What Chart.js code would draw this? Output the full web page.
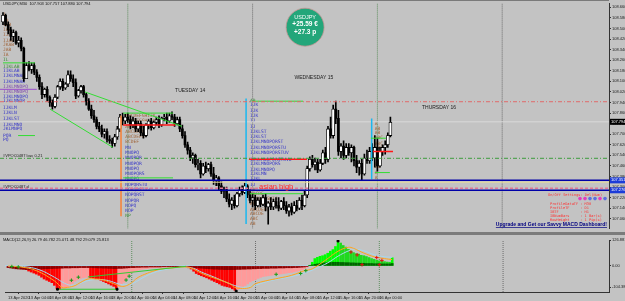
<!DOCTYPE html>
<html>
<head>
<meta charset="utf-8">
<title>USDJPY M30</title>
<script src="https://cdn.jsdelivr.net/npm/chart.js@4.4.1/dist/chart.umd.min.js"></script>
<style>
  html, body { margin: 0; padding: 0; background: #c3c3c3; }
  #wrap { position: relative; width: 625px; height: 301px; overflow: hidden; background: #c3c3c3; }
  canvas { position: absolute; left: 0; }
  #priceChart { top: 0; }
  #macdChart { top: 235px; }
  #sep { position: absolute; left: 0; top: 232px; width: 625px; height: 3px; background: #7b7b7b; }
</style>
</head>
<body>
<div id="wrap">
  <canvas id="priceChart" width="625" height="232"></canvas>
  <div id="sep"></div>
  <canvas id="macdChart" width="625" height="66"></canvas>
</div>
<script>
// ==================== DATA ====================

const headerText = 'USDJPY,M30  107.903 107.757 107.880 107.794';
const macdHeader = 'MACD(12,26,9) 26.79 46.782 25.071 48.792 29.079 25.813';

// one label every 4 hours (8 bars of M30)
const timeLabels = ['13 Apr 2020', '13 Apr 04:00', '13 Apr 08:00', '13 Apr 12:00', '13 Apr 16:00', '13 Apr 20:00',
  '14 Apr 00:00', '14 Apr 04:00', '14 Apr 08:00', '14 Apr 12:00', '14 Apr 16:00', '14 Apr 20:00',
  '15 Apr 00:00', '15 Apr 04:00', '15 Apr 08:00', '15 Apr 12:00', '15 Apr 16:00', '15 Apr 20:00', '16 Apr 00:00'];
const BARS_PER_LABEL = 8;
const daySeps = [48, 96, 144, 192];

const opens = [
  108.55, 108.60, 108.53, 108.49, 108.44, 108.47, 108.39, 108.41, 108.35, 108.12,
  108.22, 108.19, 108.22, 108.17, 108.13, 108.06, 108.00, 108.04, 107.98, 107.94,
  107.91, 107.98, 108.06, 108.10, 108.05, 108.08, 108.15, 108.12, 108.09, 107.99,
  108.03, 108.06, 108.00, 107.95, 107.89, 107.84, 107.81, 107.76, 107.74, 107.70,
  107.72, 107.66, 107.65, 107.63, 107.68, 107.74, 107.83, 107.80, 107.83, 107.81,
  107.77, 107.80, 107.74, 107.78, 107.71, 107.69, 107.77, 107.80, 107.75, 107.79,
  107.81, 107.77, 107.82, 107.83, 107.80, 107.84, 107.83, 107.78, 107.81, 107.74,
  107.69, 107.62, 107.58, 107.52, 107.54, 107.47, 107.48, 107.40, 107.46, 107.44,
  107.47, 107.40, 107.35, 107.37, 107.31, 107.27, 107.28, 107.21, 107.17, 107.20,
  107.16, 107.25, 107.28, 107.26, 107.31, 107.24, 107.20, 107.22, 107.16, 107.20,
  107.17, 107.22, 107.15, 107.18, 107.15, 107.19, 107.16, 107.14, 107.19, 107.16,
  107.12, 107.15, 107.11, 107.16, 107.14, 107.20, 107.16, 107.24, 107.44, 107.51,
  107.47, 107.49, 107.43, 107.48, 107.56, 107.51, 107.74, 107.69, 107.89, 107.82,
  107.57, 107.61, 107.54, 107.60, 107.56, 107.60, 107.50, 107.45, 107.48, 107.40,
  107.52, 107.50, 107.57, 107.52, 107.60, 107.46, 107.57, 107.60, 107.62, 107.69
];
const highs = [
  108.62, 108.61, 108.55, 108.51, 108.49, 108.48, 108.44, 108.43, 108.36, 108.24,
  108.25, 108.24, 108.24, 108.19, 108.15, 108.09, 108.05, 108.06, 107.99, 107.96,
  108.00, 108.07, 108.12, 108.12, 108.09, 108.18, 108.18, 108.15, 108.12, 108.04,
  108.07, 108.07, 108.01, 107.97, 107.92, 107.88, 107.83, 107.79, 107.77, 107.74,
  107.74, 107.69, 107.67, 107.70, 107.76, 107.85, 107.86, 107.85, 107.86, 107.84,
  107.83, 107.82, 107.80, 107.80, 107.76, 107.78, 107.81, 107.82, 107.80, 107.83,
  107.84, 107.83, 107.85, 107.86, 107.86, 107.87, 107.85, 107.83, 107.83, 107.77,
  107.72, 107.64, 107.60, 107.56, 107.55, 107.51, 107.50, 107.48, 107.49, 107.48,
  107.49, 107.45, 107.39, 107.38, 107.34, 107.30, 107.30, 107.25, 107.22, 107.24,
  107.26, 107.30, 107.31, 107.33, 107.32, 107.28, 107.25, 107.24, 107.22, 107.22,
  107.24, 107.25, 107.19, 107.22, 107.21, 107.22, 107.22, 107.20, 107.22, 107.19,
  107.17, 107.18, 107.19, 107.20, 107.22, 107.24, 107.27, 107.46, 107.53, 107.54,
  107.52, 107.51, 107.51, 107.58, 107.60, 107.76, 107.83, 107.92, 107.95, 107.88,
  107.63, 107.65, 107.63, 107.63, 107.62, 107.61, 107.54, 107.50, 107.51, 107.55,
  107.58, 107.60, 107.63, 107.69, 107.67, 107.60, 107.62, 107.65, 107.71, 107.83
];
const lows = [
  108.53, 108.52, 108.46, 108.41, 108.40, 108.38, 108.36, 108.33, 108.10, 108.12,
  108.18, 108.16, 108.15, 108.10, 108.04, 107.97, 107.98, 107.95, 107.91, 107.89,
  107.90, 107.97, 108.04, 108.03, 108.04, 108.06, 108.10, 108.06, 107.97, 107.98,
  108.01, 107.98, 107.92, 107.88, 107.82, 107.79, 107.74, 107.72, 107.68, 107.67,
  107.64, 107.63, 107.60, 107.61, 107.66, 107.72, 107.77, 107.78, 107.79, 107.74,
  107.75, 107.72, 107.72, 107.69, 107.67, 107.68, 107.74, 107.73, 107.74, 107.77,
  107.75, 107.76, 107.80, 107.78, 107.79, 107.81, 107.76, 107.77, 107.72, 107.67,
  107.60, 107.55, 107.50, 107.48, 107.45, 107.43, 107.37, 107.39, 107.41, 107.42,
  107.38, 107.32, 107.31, 107.28, 107.25, 107.22, 107.19, 107.15, 107.13, 107.14,
  107.15, 107.23, 107.24, 107.25, 107.22, 107.18, 107.15, 107.13, 107.15, 107.15,
  107.16, 107.12, 107.02, 107.13, 107.13, 107.14, 107.12, 107.13, 107.13, 107.10,
  107.08, 107.09, 107.10, 107.12, 107.13, 107.13, 107.15, 107.22, 107.42, 107.45,
  107.43, 107.41, 107.42, 107.47, 107.48, 107.49, 107.67, 107.67, 107.78, 107.54,
  107.52, 107.51, 107.52, 107.54, 107.49, 107.46, 107.41, 107.39, 107.35, 107.39,
  107.48, 107.48, 107.50, 107.45, 107.42, 107.45, 107.54, 107.55, 107.60, 107.68
];
const closes = [
  108.60, 108.53, 108.49, 108.44, 108.47, 108.39, 108.41, 108.35, 108.12, 108.22,
  108.19, 108.22, 108.17, 108.13, 108.06, 108.00, 108.04, 107.98, 107.94, 107.91,
  107.98, 108.06, 108.10, 108.05, 108.08, 108.15, 108.12, 108.09, 107.99, 108.03,
  108.06, 108.00, 107.95, 107.89, 107.84, 107.81, 107.76, 107.74, 107.70, 107.72,
  107.66, 107.65, 107.63, 107.68, 107.74, 107.83, 107.80, 107.83, 107.81, 107.77,
  107.80, 107.74, 107.78, 107.71, 107.69, 107.77, 107.80, 107.75, 107.79, 107.81,
  107.77, 107.82, 107.83, 107.80, 107.84, 107.83, 107.78, 107.81, 107.74, 107.69,
  107.62, 107.58, 107.52, 107.54, 107.47, 107.48, 107.40, 107.46, 107.44, 107.47,
  107.40, 107.35, 107.37, 107.31, 107.27, 107.28, 107.21, 107.17, 107.20, 107.16,
  107.25, 107.28, 107.26, 107.31, 107.24, 107.20, 107.22, 107.16, 107.20, 107.17,
  107.22, 107.15, 107.18, 107.15, 107.19, 107.16, 107.14, 107.19, 107.16, 107.12,
  107.15, 107.11, 107.16, 107.14, 107.20, 107.16, 107.24, 107.44, 107.51, 107.47,
  107.49, 107.43, 107.48, 107.56, 107.51, 107.74, 107.69, 107.89, 107.82, 107.57,
  107.61, 107.54, 107.60, 107.56, 107.60, 107.50, 107.45, 107.48, 107.40, 107.52,
  107.50, 107.57, 107.52, 107.60, 107.46, 107.57, 107.60, 107.62, 107.69, 107.79
];

const priceTicks = [108.66, 108.58, 108.50, 108.42, 108.34, 108.26, 108.18, 108.10, 108.02, 107.94, 107.86,
  107.78, 107.70, 107.62, 107.54, 107.46, 107.38, 107.30, 107.22, 107.14, 107.06];
const lastPrice = 107.794;

// full-width levels
const prevHighLevel = 107.946;
const vpocLevel = 107.518;
const asianHighLevel = 107.351;
const asianHighShadow = 107.337;
const vpocDLevel = 107.291;
const asianLowLevel = 107.276;

// drawn objects [barFrom, priceFrom, barTo, priceTo]
const greenSegs = [
  [0, 108.24, 12.3, 108.24], [18.1, 107.89, 42.3, 107.60], [31.5, 108.02, 68.8, 107.76],
  [46.2, 107.86, 65.4, 107.86], [46.2, 107.37, 65.4, 107.37], [5.8, 107.69, 12.3, 107.69],
  [95.8, 107.95, 115.4, 107.95], [95.0, 107.25, 115.4, 107.25], [141.5, 107.67, 147.3, 107.67],
  [143.0, 107.41, 148.8, 107.41]
];
const redSegs = [[46.2, 107.77, 66.2, 107.77], [94.6, 107.51, 116.9, 107.51], [142.3, 107.57, 150.0, 107.57]];
const purpleSegs = [[-1.2, 108.04, 13.0, 108.04]];
const cyanSegs = [[93.5, 107.97, 93.5, 107.02], [141.8, 107.82, 141.8, 107.36]];
const orangeSegs = [[45.4, 107.84, 45.4, 107.08]];

// TPO profile rows [price, letters, kind]
const tpo13 = [
  [108.60, 'I', 0], [108.56, 'IB', 0], [108.53, 'IAB', 0], [108.49, 'IAB', 0], [108.45, 'IJAB', 0],
  [108.41, 'IJAB', 0], [108.38, 'JKAB', 0], [108.34, 'JAB', 0], [108.30, 'IA', 0], [108.26, 'IL', 3],
  [108.21, 'IIKLAB', 3], [108.18, 'IIKLAB', 1], [108.14, 'IJKLMNAB', 1], [108.10, 'IJKLMNAB', 1],
  [108.06, 'IJKLMNOPQ', 2], [108.02, 'IJKLMNOPQ', 2], [107.98, 'IJKLMNOPQ', 1], [107.95, 'IJKLMNOP', 1],
  [107.90, 'IJKLM', 1], [107.86, 'IJKLN', 1], [107.82, 'IJKLST', 1], [107.77, 'IJKLMNO', 1],
  [107.74, 'JKLMNPQ', 1], [107.69, 'PQR', 1], [107.66, 'PQ', 1]
];
const tpo14 = [
  [107.84, 'ABCDEFGHIJK', 0], [107.80, 'ABCDEFGHIJK', 0], [107.76, 'ABCDEFGHIJ', 0], [107.72, 'ABCDEFGH', 0],
  [107.68, 'ABCDEFG', 0], [107.64, 'BCDEF', 0], [107.60, 'MN', 1], [107.56, 'MNOPQ', 1], [107.52, 'MNOPQR', 1],
  [107.48, 'MNOPQR', 1], [107.44, 'MNOPQ', 1], [107.40, 'MNOPQRS', 1], [107.36, 'MNOPQ', 1],
  [107.32, 'NOPQRSTU', 1], [107.28, 'NOPQRSTUV', 2], [107.24, 'NOPQRST', 1], [107.20, 'NOPQR', 1],
  [107.16, 'NOPQ', 1], [107.12, 'NOP', 1], [107.08, 'NP', 3]
];
const tpo15 = [
  [107.95, 'AB', 3], [107.92, 'IJK', 1], [107.88, 'IJK', 1], [107.84, 'IJK', 1], [107.80, 'IJ', 1],
  [107.76, 'IJ', 1], [107.72, 'IJKLST', 1], [107.68, 'IJKLST', 1], [107.64, 'IJKLMNOPQRST', 1],
  [107.60, 'IJKLMNOPQRSTU', 1], [107.56, 'IJKLMNOPQRSTUV', 1], [107.51, 'IJKLMNOPQRSTUVW', 1],
  [107.48, 'IJKLMNOPQRS', 1], [107.43, 'IJKLMNOPQ', 1], [107.40, 'IJKLMN', 1], [107.36, 'IJKL', 1],
  [107.32, 'IJ', 1], [107.28, 'AB', 0], [107.25, 'ABCDE', 0], [107.21, 'ABCDEFGHIJ', 0],
  [107.17, 'ABCDEFGHI', 0], [107.13, 'ABCDEFG', 0], [107.10, 'ABCDE', 0], [107.06, 'ABC', 0], [107.02, 'AB', 0]
];
const tpo16 = [
  [107.78, 'A', 0], [107.74, 'AB', 0], [107.71, 'AB', 0], [107.67, 'ABC', 0], [107.63, 'ABC', 0],
  [107.60, 'ABC', 0], [107.56, 'AB', 0], [107.52, 'ABC', 0], [107.48, 'AB', 0], [107.45, 'AB', 0],
  [107.41, 'A', 0], [107.37, 'A', 0]
];
const tpoStart = [0, 47, 95, 143];

const dayNames = ['TUESDAY 14', 'WEDNESDAY 15', 'THURSDAY 16'];
const badgeLines = ['USDJPY', '+25.59 \u20ac', '+27.3 p'];
const vpocLabels = ['#VPOC0487 low, 0.21', '#VPOC0487 d'];
const asianLabel = 'asian high';
const infoTitle = 'On/Off Settings: Del(Num)';
const infoLines = ['ProfileDataTF : M30', 'ProfileTF     : D1', 'IBTF          : H1', 'IBNumBars     : 1 Bar(s)', 'RowHeight     : 1 Pip(s)'];
const upgradeText = 'Upgrade and Get our Savvy MACD Dashboard!';

// MACD panel
const macdHist = [
  -4, -3, -5, -6, -8, -10, -13, -18, -25, -30,
  -35, -40, -46, -55, -64, -70, -76, -82, -95, -112,
  -114, -110, -108, -102, -96, -86, -75, -68, -62, -58,
  -56, -55, -57, -60, -64, -67, -70, -76, -82, -88,
  -94, -100, -112, -100, -90, -80, -62, -44, -33, -28,
  -23, -19, -16, -14, -13, -11, -10, -9, -8, -7,
  -6, -6, -5, -5, -5, -4, -4, -3, -3, -4,
  -9, -15, -26, -37, -43, -48, -53, -58, -64, -70,
  -76, -82, -88, -95, -99, -102, -105, -112, -119, -116,
  -110, -104, -96, -88, -78, -72, -67, -61, -56, -52,
  -50, -48, -46, -44, -42, -41, -39, -37, -35, -33,
  -32, -29, -26, -23, -19, -14, -7, 2, 18, 36,
  42, 47, 50, 55, 62, 72, 80, 95, 118, 112,
  100, 92, 81, 74, 65, 60, 58, 52, 50, 46,
  41, 36, 32, 28, 25, 22, 21, 19, 18, 40
];
const macdOsma = [
  -8, -10, -12, -14, -15, -16, -17, -18, -18, -18,
  -17, -16, -15, -15, -14, -14, -13, -13, -12, -12,
  -11, -11, -10, -10, -10, -9, -9, -9, -8, -8,
  -8, -8, -8, -9, -9, -10, -10, -11, -11, -12,
  -12, -13, -13, -12, -12, -11, -10, -9, -8, -8,
  -7, -7, -6, -6, -6, -5, -5, -5, -5, -5,
  -4, -4, -4, -4, -4, -4, -4, -4, -5, -5,
  -6, -7, -8, -9, -10, -11, -12, -13, -14, -15,
  -16, -16, -17, -17, -18, -18, -18, -18, -18, -17,
  -17, -16, -16, -15, -15, -14, -14, -13, -13, -12,
  -12, -12, -11, -11, -11, -10, -10, -10, -9, -9,
  -9, -8, -8, -7, -6, -5, -3, 2, 5, 8,
  10, 12, 14, 15, 16, 17, 18, 18, 18, 17,
  17, 16, 16, 15, 15, 14, 14, 13, 13, 12,
  12, 12, 11, 11, 11, 10, 10, 10, 10, 12
];
// [bar, value]
const macdFast = [[0, 0], [5, -5], [11, -23], [18, -73], [21, -105], [23, -105], [26, -96], [28, -82],
  [31, -64], [34, -64], [37, -69], [41, -87], [44, -100], [46, -96], [48, -82], [50, -60], [53, -41],
  [57, -23], [60, -14], [64, -10], [68, -5], [71, -10], [73, -23], [76, -41], [81, -64], [86, -87],
  [88, -105], [91, -110], [94, -105], [96, -87], [100, -73], [105, -60], [110, -46], [115, -23],
  [118, -14], [123, 27], [128, 72], [132, 91], [134, 86], [138, 63], [142, 45], [146, 36], [149, 31]];
const macdSignal = [[0, 0], [6, -3], [12, -18], [18, -55], [22, -85], [25, -95], [28, -85], [31, -72],
  [35, -66], [39, -72], [43, -88], [46, -92], [49, -82], [52, -60], [56, -35], [60, -20], [65, -10],
  [69, -6], [72, -12], [75, -30], [80, -55], [85, -82], [89, -100], [92, -105], [95, -98], [99, -82],
  [104, -66], [110, -52], [115, -35], [119, -15], [124, 15], [129, 55], [134, 80], [138, 74],
  [142, 55], [146, 45], [149, 42]];
const macdGreenSegs = [[19.2, -114, 42.3, -114], [31.0, -54, 69.0, -2]];
const macdPivots = [[19.2, -114], [42.3, -114], [88.5, -123], [128, 122]];
const macdBuyMarks = [[1.5, -3], [4, -5], [24.6, -70], [27.3, -55], [45.8, -69], [47, -50], [104, -41], [113.5, -37], [115.5, -23]];
const macdSellMarks = [[133, 68], [135.4, 54], [137.3, 6], [143, 41], [145, 27], [144, 6]];
const macdTicks = [126.881, 0, -104.383];

// ==================== LAYOUT CONSTANTS ====================
const X_MIN = -1.154, X_MAX = 233.08;
const PRICE_MIN = 106.986, PRICE_MAX = 108.690;
const MACD_MIN = -127.5, MACD_MAX = 126.881;
const AXIS_W = 16;
const FONT = '"Liberation Sans", Arial, sans-serif';

// ==================== HELPERS ====================
function seg(a, color, width, dash) {
  return {
    type: 'line', data: [{ x: a[0], y: a[1] }, { x: a[2], y: a[3] }],
    borderColor: color, borderWidth: width, borderDash: dash || [],
    pointRadius: 0, fill: false, tension: 0
  };
}
function level(p, color, width, dash) {
  return seg([X_MIN, p, X_MAX, p], color, width, dash);
}
function marks(list, color, style, r) {
  return {
    type: 'line', data: list.map(([x, y]) => ({ x, y })), showLine: false,
    pointStyle: style, pointRadius: r, borderColor: color, backgroundColor: color, borderWidth: 1
  };
}
function daySepSets(lo, hi) {
  return daySeps.map((d, k) => seg([d, lo, d, hi], k % 2 ? '#6c6c6c' : '#5e8e5e', 1, [1, 1]));
}

const idx = opens.map((_, i) => i);
const bullIdx = idx.filter(i => closes[i] >= opens[i]);
const bearIdx = idx.filter(i => closes[i] < opens[i]);

// ==================== PRICE PANEL ====================
const tpoDays = [tpo13, tpo14, tpo15, tpo16];
const tpoColors = ['#a0643a', '#3535c8', '#7a44b0', '#3a8e3a'];

const priceOverlay = {
  id: 'priceOverlay',
  beforeDatasetsDraw(chart) {
    const { ctx, scales: { x, y } } = chart;
    ctx.save();
    ctx.font = '4.6px "DejaVu Sans Mono"';
    ctx.textBaseline = 'middle';
    ctx.textAlign = 'left';
    tpoDays.forEach((rows, d) => {
      const left = x.getPixelForValue(tpoStart[d]);
      rows.forEach(([p, t, k]) => {
        ctx.fillStyle = tpoColors[k];
        ctx.fillText(t, left, y.getPixelForValue(p));
      });
    });
    ctx.restore();
  },
  afterDatasetsDraw(chart) {
    const { ctx, chartArea: area, scales: { x, y } } = chart;
    ctx.save();
    // top frame line
    ctx.fillStyle = '#7a7a7a';
    ctx.fillRect(0, 0, area.right, 1);

    // symbol header
    ctx.fillStyle = '#111';
    ctx.font = '4px ' + FONT;
    ctx.textBaseline = 'middle';
    ctx.fillText(headerText, 3, 4);

    // day names
    ctx.font = '5px ' + FONT;
    ctx.textAlign = 'center';
    ctx.fillStyle = '#1a1a1a';
    const dayAt = [[72, 108.03], [119.6, 108.13], [167.7, 107.90]];
    dayNames.forEach((t, k) => ctx.fillText(t, x.getPixelForValue(dayAt[k][0]), y.getPixelForValue(dayAt[k][1])));

    // profit badge
    const cx = x.getPixelForValue(116.2), cy = y.getPixelForValue(108.51);
    ctx.beginPath();
    ctx.arc(cx, cy, 19, 0, Math.PI * 2);
    ctx.fillStyle = '#23a67a';
    ctx.fill();
    ctx.strokeStyle = '#c89494';
    ctx.lineWidth = 0.8;
    ctx.stroke();
    ctx.fillStyle = '#ffffff';
    ctx.font = '5.5px ' + FONT;
    ctx.fillText(badgeLines[0], cx, cy - 10);
    ctx.font = 'bold 6.5px ' + FONT;
    ctx.fillText(badgeLines[1], cx, cy - 2.5);
    ctx.fillText(badgeLines[2], cx, cy + 5.5);

    // VPOC labels
    ctx.textAlign = 'left';
    ctx.font = '4px ' + FONT;
    ctx.fillStyle = '#222';
    ctx.fillText(vpocLabels[0], 3, y.getPixelForValue(vpocLevel) - 2.5);
    ctx.fillText(vpocLabels[1], 3, y.getPixelForValue(vpocDLevel) - 1.5);

    // asian high
    ctx.font = '7.5px ' + FONT;
    ctx.fillStyle = '#ff2a2a';
    ctx.fillText(asianLabel, x.getPixelForValue(98.5), y.getPixelForValue(107.30));

    // settings box (anchored to lower right corner)
    const r = area.right, b = area.bottom;
    ctx.font = '3.6px "DejaVu Sans Mono"';
    ctx.fillStyle = '#ff3030';
    ctx.fillText(infoTitle, r - 61, b - 34);
    const dots = ['#e23cc0', '#e23cc0', '#5a6fe0', '#5a6fe0', '#e23cc0', '#5a6fe0'];
    dots.forEach((c, k) => {
      ctx.beginPath();
      ctx.arc(r - 29 + k * 5, b - 30, 1.8, 0, Math.PI * 2);
      ctx.fillStyle = c;
      ctx.fill();
    });
    ctx.fillStyle = '#ff3030';
    infoLines.forEach((t, k) => ctx.fillText(t, r - 59, b - 25 + k * 4));
    ctx.font = 'bold 5px ' + FONT;
    ctx.fillStyle = '#000080';
    ctx.textAlign = 'right';
    ctx.fillText(upgradeText, r - 2, b - 4);
    const w = ctx.measureText(upgradeText).width;
    ctx.fillRect(r - 2 - w, b - 1.5, w, 0.7);
    ctx.restore();
  },
  afterDraw(chart) {
    const { ctx, chartArea: area, scales: { y } } = chart;
    ctx.save();
    ctx.font = '4px ' + FONT;
    ctx.textBaseline = 'middle';
    ctx.textAlign = 'left';
    const box = (v, bg) => {
      const py = y.getPixelForValue(v);
      ctx.fillStyle = bg;
      ctx.fillRect(area.right + 1, py - 3, AXIS_W - 1, 6);
      ctx.fillStyle = '#ffffff';
      ctx.fillText(v.toFixed(3), area.right + 2, py);
    };
    box(lastPrice, '#000000');
    box(asianHighLevel, '#1c3cd8');
    box(asianLowLevel, '#1c3cd8');
    ctx.restore();
  }
};

const priceDatasets = [
  level(prevHighLevel, '#e06a6a', 1, [4, 2, 1, 2]),
  level(vpocLevel, '#3c9c3c', 1, [4, 2, 1, 2]),
  level(asianHighLevel, '#0000a8', 1.5),
  level(asianHighShadow, '#e6dc9a', 1),
  level(vpocDLevel, '#e07896', 1.5, [3, 2]),
  level(asianLowLevel, '#0000a8', 1.5),
  ...redSegs.map(s => seg(s, '#ff1a1a', 1.5)),
  ...greenSegs.map(s => seg(s, '#33dd33', 1)),
  ...purpleSegs.map(s => seg(s, '#9a4ccc', 1)),
  ...cyanSegs.map(s => seg(s, '#19b8f0', 1.5)),
  ...orangeSegs.map(s => seg(s, '#f08a4a', 1)),
  {
    type: 'bar', label: 'bull',
    data: bullIdx.map(i => ({ x: i, y: [opens[i], closes[i]] })),
    backgroundColor: '#ffffff', borderColor: '#000000', borderWidth: 0.8, borderSkipped: false, barThickness: 3
  },
  {
    type: 'bar', label: 'bear',
    data: bearIdx.map(i => ({ x: i, y: [opens[i], closes[i]] })),
    backgroundColor: '#000000', barThickness: 2
  },
  {
    type: 'bar', label: 'wick',
    data: idx.map(i => ({ x: i, y: [lows[i], highs[i]] })),
    backgroundColor: '#000000', barThickness: 1
  },
  level(lastPrice, '#dadada', 1),
  ...daySepSets(PRICE_MIN, PRICE_MAX)
];

new Chart(document.getElementById('priceChart'), {
  type: 'bar',
  data: { datasets: priceDatasets },
  options: {
    responsive: false, animation: false, devicePixelRatio: 1,
    layout: { padding: { top: 3, left: 0, right: 0, bottom: 0 } },
    plugins: { legend: { display: false }, tooltip: { enabled: false } },
    datasets: { bar: { grouped: false } },
    scales: {
      x: { type: 'linear', min: X_MIN, max: X_MAX, offset: false, display: false },
      y: {
        position: 'right', min: PRICE_MIN, max: PRICE_MAX,
        afterBuildTicks: s => { s.ticks = priceTicks.map(v => ({ value: v })); },
        afterFit: s => { s.width = AXIS_W; },
        grid: { drawOnChartArea: false, tickLength: 2, color: '#333' },
        border: { color: '#333' },
        ticks: { font: { size: 4, family: FONT }, color: '#1c1c1c', padding: 1, autoSkip: false, callback: v => v.toFixed(3) }
      }
    }
  },
  plugins: [priceOverlay]
});

// ==================== MACD PANEL ====================
const histColors = macdHist.map((v, i) => {
  const prev = i ? macdHist[i - 1] : v;
  if (v < 0) return v < prev ? '#ff0000' : '#ff9a9a';
  return v > prev ? '#00ff00' : '#1fd91f';
});

const macdOverlay = {
  id: 'macdOverlay',
  afterDatasetsDraw(chart) {
    const { ctx } = chart;
    ctx.save();
    ctx.font = '4px ' + FONT;
    ctx.fillStyle = '#111';
    ctx.textBaseline = 'middle';
    ctx.fillText(macdHeader, 3, 4.5);
    ctx.restore();
  }
};

new Chart(document.getElementById('macdChart'), {
  type: 'bar',
  data: {
    datasets: [
      marks(macdPivots, '#000000', 'rect', 1.3),
      marks(macdBuyMarks, '#1a9c1a', 'cross', 1.8),
      marks(macdSellMarks, '#e01010', 'cross', 1.8),
      ...macdGreenSegs.map(s => seg(s, '#33cc33', 1)),
      {
        type: 'line', data: macdFast.map(([x, y]) => ({ x, y })),
        borderColor: '#ffa41c', borderWidth: 1, pointRadius: 0, tension: 0.4, fill: false
      },
      {
        type: 'line', data: macdSignal.map(([x, y]) => ({ x, y })),
        borderColor: '#a6d8ee', borderWidth: 1, pointRadius: 0, tension: 0.4, fill: false
      },
      {
        type: 'bar', data: idx.map(i => ({ x: i, y: macdOsma[i] })),
        backgroundColor: macdOsma.map(v => v < 0 ? '#8b0000' : '#006400'), barThickness: 2
      },
      {
        type: 'bar', data: idx.map(i => ({ x: i, y: macdHist[i] })),
        backgroundColor: histColors, barThickness: 2
      },
      seg([X_MIN, 0, 117, 0], '#a6d8ee', 1),
      ...daySepSets(MACD_MIN, MACD_MAX)
    ]
  },
  options: {
    responsive: false, animation: false, devicePixelRatio: 1,
    layout: { padding: { top: 1, left: 0, right: 0, bottom: 0 } },
    plugins: { legend: { display: false }, tooltip: { enabled: false } },
    datasets: { bar: { grouped: false } },
    scales: {
      x: {
        type: 'linear', min: X_MIN, max: X_MAX, offset: false, position: 'bottom',
        afterBuildTicks: s => { s.ticks = timeLabels.map((_, k) => ({ value: k * BARS_PER_LABEL })); },
        afterFit: s => { s.height = 9; },
        grid: { drawOnChartArea: false, tickLength: 2, color: '#333' },
        border: { color: '#333' },
        ticks: {
          font: { size: 4, family: FONT }, color: '#1c1c1c', align: 'start', padding: 1,
          maxRotation: 0, minRotation: 0, autoSkip: false, callback: (v, k) => timeLabels[k]
        }
      },
      y: {
        position: 'right', min: MACD_MIN, max: MACD_MAX,
        afterBuildTicks: s => { s.ticks = macdTicks.map(v => ({ value: v })); },
        afterFit: s => { s.width = AXIS_W; },
        grid: { drawOnChartArea: false, tickLength: 2, color: '#333' },
        border: { color: '#333' },
        ticks: { font: { size: 4, family: FONT }, color: '#1c1c1c', padding: 1, callback: v => v === 0 ? '0.00' : v.toFixed(3) }
      }
    }
  },
  plugins: [macdOverlay]
});
</script>
</body>
</html>
